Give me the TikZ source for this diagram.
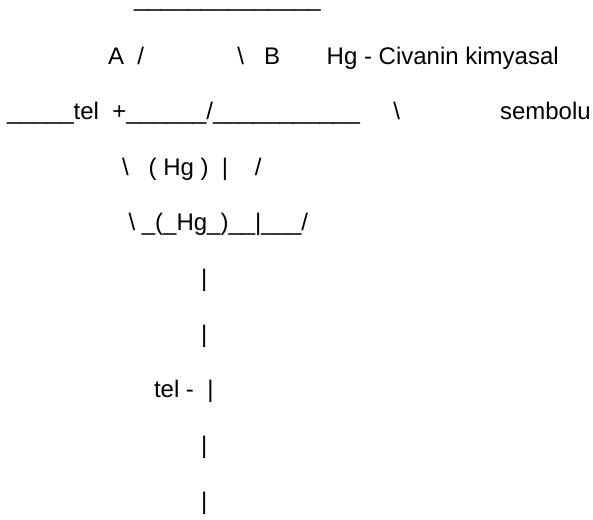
\documentclass[tikz,border=0pt]{standalone}
\usepackage{fontspec}
\setmainfont{Liberation Sans}
\newcommand\gp[1]{\hspace*{#1\fontdimen2\font}}
\tikzset{x=1pt,y=-1pt,
  txt/.style={anchor=base west,inner sep=0pt,outer sep=0pt,font=\fontsize{24}{27}\selectfont,text=black}}
\begin{document}
\begin{tikzpicture}
\useasboundingbox (0,0) rectangle (593,519);
\node[txt] (l1) at (134,7) {\_\_\_\_\_\_\_\_\_\_\_\_\_\_};
\node[txt] (l2) at (108,64) {A\gp{2}/\gp{14}\textbackslash\gp{3}B\gp{7}Hg - Civanin kimyasal};
\node[txt] (l3) at (7,119.5) {\_\_\_\_\_tel\gp{2}+\_\_\_\_\_\_/\_\_\_\_\_\_\_\_\_\_\_\gp{5}\textbackslash\gp{15}sembolu};
\node[txt] (l4) at (122,175) {\textbackslash\gp{3}( Hg )\gp{2}|\gp{4}/};
\node[txt] (l5) at (128.5,230.5) {\textbackslash\ \_(\_Hg\_)\_\_|\_\_\_/};
\node[txt] (l6) at (201,286.5) {|};
\node[txt] (l7) at (201,342) {|};
\node[txt] (l8) at (154,397.5) {tel -\gp{2}|};
\node[txt] (l9) at (201,453) {|};
\node[txt] (l10) at (201,509) {|};
\end{tikzpicture}
\end{document}
